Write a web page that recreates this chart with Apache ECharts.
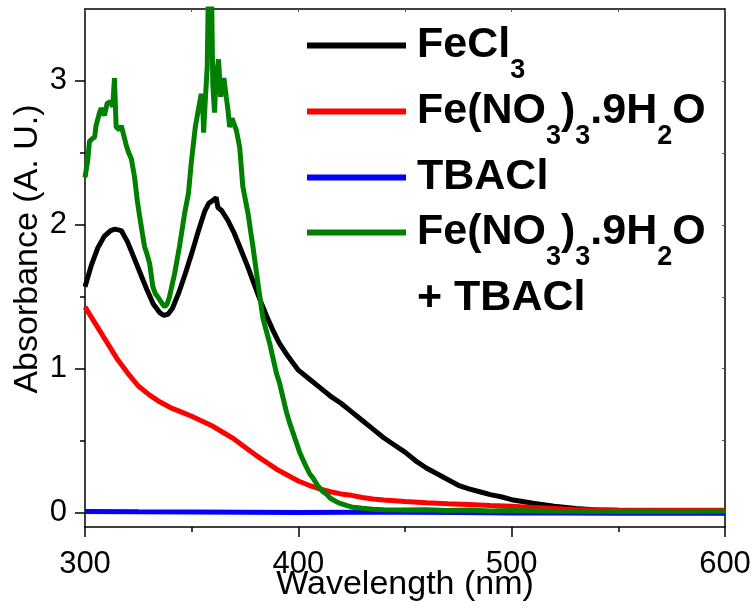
<!DOCTYPE html>
<html>
<head>
<meta charset="utf-8">
<title>Absorbance</title>
<script src="https://cdn.jsdelivr.net/npm/echarts@6.0.0/dist/echarts.min.js"></script>
<style>
	html, body { margin: 0; padding: 0; background: #fff; }
	#chart { width: 755px; height: 613px; }
</style>
</head>
<body>
<div id="chart"></div>
<script>
// 数据 -- wavelength (nm) / absorbance
var feclWl = [300, 303, 306, 309, 312, 314, 317, 320, 323, 326, 329, 332, 335, 337, 339, 341, 344, 347, 350, 353, 356, 358, 360, 361.5, 362.3, 364, 367, 370, 373, 376, 379, 382, 385, 388, 391, 395, 400, 405, 410, 415, 420, 425, 430, 435, 440, 445, 450, 455, 460, 465, 470, 475, 480, 485, 490, 495, 500, 510, 520, 530, 540, 550, 560, 580, 600];
var feclAbs = [1.57, 1.72, 1.84, 1.92, 1.96, 1.97, 1.96, 1.88, 1.77, 1.66, 1.55, 1.45, 1.39, 1.37, 1.38, 1.42, 1.53, 1.66, 1.8, 1.95, 2.09, 2.15, 2.17, 2.19, 2.12, 2.1, 2.03, 1.94, 1.83, 1.72, 1.6, 1.48, 1.37, 1.27, 1.18, 1.09, 0.99, 0.93, 0.87, 0.81, 0.76, 0.7, 0.64, 0.58, 0.52, 0.47, 0.42, 0.36, 0.31, 0.27, 0.23, 0.19, 0.165, 0.145, 0.125, 0.11, 0.09, 0.065, 0.045, 0.028, 0.018, 0.014, 0.012, 0.012, 0.012];

var nitWl = [300, 305, 310, 315, 320, 325, 330, 335, 340, 345, 350, 355, 360, 365, 370, 375, 380, 385, 390, 395, 400, 405, 410, 415, 420, 425, 430, 435, 440, 450, 460, 470, 480, 490, 500, 510, 520, 530, 550, 575, 600];
var nitAbs = [1.43, 1.31, 1.19, 1.07, 0.97, 0.88, 0.82, 0.77, 0.73, 0.7, 0.67, 0.635, 0.6, 0.555, 0.51, 0.455, 0.4, 0.35, 0.3, 0.26, 0.22, 0.19, 0.165, 0.145, 0.13, 0.12, 0.105, 0.095, 0.087, 0.077, 0.068, 0.062, 0.057, 0.05, 0.045, 0.035, 0.028, 0.022, 0.018, 0.016, 0.016];

var tbaWl = [300, 325, 350, 375, 400, 425, 450, 475, 500, 525, 550, 575, 600];
var tbaAbs = [0.008, 0.006, 0.005, 0.003, 0.0, 0.002, 0.002, 0.0, -0.003, -0.002, -0.005, -0.004, -0.004];

var mixWl = [300, 301.3, 302.1, 303.5, 304.5, 305.2, 306.8, 307.6, 308.5, 309.1, 310.4, 312, 313, 313.8, 314.6, 316.2, 317, 317.9, 319.3, 320.5, 321.7, 323.2, 324.5, 325.6, 327, 327.9, 329, 330.3, 331.8, 333, 334.1, 335.8, 337.3, 338.5, 339.6, 342, 344.3, 346.7, 348.5, 349.8, 351.7, 352.9, 354.5, 355.1, 355.6, 356.4, 357.3, 357.8, 358.4, 359.2, 359.6, 359.9, 360.7, 361.5, 362.6, 363.6, 364.4, 365.1, 366.2, 367, 367.8, 368.9, 370.9, 372.5, 374, 376.4, 378.7, 381.1, 383.4, 386.5, 389.7, 391.2, 394.4, 396, 400.6, 403, 405.3, 406.9, 409, 411.5, 413.1, 415, 417.8, 420, 422.5, 425.6, 430, 435, 440, 450, 460, 470, 480, 490, 500, 520, 540, 560, 580, 600];
var mixAbs = [2.33, 2.45, 2.58, 2.6, 2.61, 2.69, 2.78, 2.81, 2.8, 2.76, 2.845, 2.856, 2.82, 3.02, 2.68, 2.66, 2.69, 2.68, 2.555, 2.5, 2.46, 2.335, 2.17, 2.06, 1.93, 1.85, 1.8, 1.73, 1.57, 1.52, 1.5, 1.46, 1.43, 1.45, 1.5, 1.66, 1.85, 2.08, 2.22, 2.43, 2.68, 2.78, 2.91, 2.88, 2.64, 2.87, 3.1, 3.6, 3.9, 3.8, 3.3, 2.98, 2.78, 3.03, 3.15, 2.89, 2.98, 3.02, 2.89, 2.8, 2.68, 2.74, 2.66, 2.54, 2.265, 2.08, 1.85, 1.59, 1.35, 1.18, 0.97, 0.9, 0.7, 0.62, 0.42, 0.34, 0.27, 0.24, 0.19, 0.146, 0.13, 0.1, 0.076, 0.062, 0.05, 0.037, 0.03, 0.024, 0.02, 0.018, 0.02, 0.015, 0.018, 0.012, 0.014, 0.01, 0.008, 0.01, 0.008, 0.01];

var seriesNames = ['FeCl3', 'Fe(NO3)3.9H2O', 'TBACl', 'Fe(NO3)3.9H2O + TBACl'];
var seriesColors = ['#000000', '#ff0000', '#0000ff', '#008000'];
// rich-text legend labels (subscripts)
var legendLabels = [
	'{m|FeCl}{s|3}',
	'{m|Fe(NO}{s|3}{m|)}{s|3}{m|.9H}{s|2}{m|O}',
	'{m|TBACl}',
	'{m|Fe(NO}{s|3}{m|)}{s|3}{m|.9H}{s|2}{m|O}'
];
var legendTops = [7, 73, 156, 194];

var xTicks = [300, 400, 500, 600];
var yTicks = [0, 1, 2, 3];
var yMinorTicks = [0.5, 1.5, 2.5];
var yFrameTicks = [0, 0.5, 1, 1.5, 2, 2.5, 3];

function pairs(xs, ys) {
	var out = [];
	for (var i = 0; i < xs.length; i++) {
		out.push([xs[i], ys[i]]);
	}
	return out;
}

var FONT = '"Liberation Sans", Arial, sans-serif';

var myChart = echarts.init(document.getElementById('chart'));

var seriesData = [pairs(feclWl, feclAbs), pairs(nitWl, nitAbs), pairs(tbaWl, tbaAbs), pairs(mixWl, mixAbs)];
var series = [];
var legends = [];
for (var k = 0; k < seriesNames.length; k++) {
	series.push({
		name: seriesNames[k],
		type: 'line',
		xAxisIndex: 0,
		yAxisIndex: 0,
		data: seriesData[k],
		showSymbol: false,
		symbol: 'none',
		clip: true,
		lineStyle: { color: seriesColors[k], width: 5 },
		itemStyle: { color: seriesColors[k] }
	});
	legends.push({
		data: [seriesNames[k]],
		orient: 'vertical',
		left: 307,
		top: legendTops[k],
		padding: 0,
		icon: 'rect',
		itemWidth: 99,
		itemHeight: 6,
		selectedMode: false,
		formatter: (function(idx) {
			return function() { return legendLabels[idx]; };
		})(k),
		textStyle: {
			padding: [0, 0, 0, 6],
			rich: {
				m: { fontSize: 43, fontWeight: 'bold', fontFamily: FONT, color: '#000', lineHeight: 50 },
				s: { fontSize: 27, fontWeight: 'bold', fontFamily: FONT, color: '#000', lineHeight: 50, padding: [50, 0, 0, 0] }
			}
		}
	});
}

var option = {
	animation: false,
	backgroundColor: '#fff',
	grid: {
		left: 85,
		right: 30,
		top: 9,
		bottom: 86,
		containLabel: false,
		outerBoundsMode: 'none'
	},
	legend: legends,
	xAxis: [{
		type: 'value',
		position: 'bottom',
		min: 300,
		max: 600,
		interval: 100,
		name: 'Wavelength (nm)',
		nameLocation: 'middle',
		nameGap: 41,
		nameMoveOverlap: false,
		nameTextStyle: { fontSize: 34, color: '#000', fontFamily: FONT },
		axisLine: { show: true, onZero: false, lineStyle: { color: '#000', width: 1.5 } },
		axisTick: { show: true, inside: false, length: 10, lineStyle: { color: '#000', width: 1.5 } },
		minorTick: { show: true, splitNumber: 2, length: 5, lineStyle: { color: '#000', width: 1.5 } },
		axisLabel: {
			margin: 22,
			fontSize: 31,
			color: '#000',
			fontFamily: FONT,
			customValues: xTicks
		},
		splitLine: { show: false },
		minorSplitLine: { show: false }
	}, {
		type: 'value',
		position: 'top',
		min: 300,
		max: 600,
		interval: 50,
		axisLine: { show: true, onZero: false, lineStyle: { color: '#000', width: 1.5 } },
		axisTick: { show: true, inside: true, length: 3, lineStyle: { color: '#555', width: 1 } },
		axisLabel: { show: false },
		splitLine: { show: false }
	}],
	yAxis: [{
		type: 'value',
		position: 'left',
		min: -0.1,
		max: 3.5,
		name: 'Absorbance (A. U.)',
		nameLocation: 'middle',
		nameGap: 40,
		nameMoveOverlap: false,
		nameTextStyle: { fontSize: 34, color: '#000', fontFamily: FONT, padding: [0, 0, 0, 38] },
		axisLine: { show: true, onZero: false, lineStyle: { color: '#000', width: 1.5 } },
		axisTick: { show: true, inside: false, length: 10, customValues: yTicks, lineStyle: { color: '#000', width: 1.5 } },
		axisLabel: {
			margin: 18,
			fontSize: 31,
			color: '#000',
			fontFamily: FONT,
			customValues: yTicks
		},
		splitLine: { show: false }
	}, {
		type: 'value',
		position: 'left',
		min: -0.1,
		max: 3.5,
		axisLine: { show: false },
		axisTick: { show: true, inside: false, length: 5, customValues: yMinorTicks, lineStyle: { color: '#000', width: 1.5 } },
		axisLabel: { show: false },
		splitLine: { show: false }
	}, {
		type: 'value',
		position: 'right',
		min: -0.1,
		max: 3.5,
		axisLine: { show: true, onZero: false, lineStyle: { color: '#000', width: 1.5 } },
		axisTick: { show: true, inside: true, length: 3, customValues: yFrameTicks, lineStyle: { color: '#555', width: 1 } },
		axisLabel: { show: false },
		splitLine: { show: false }
	}],
	graphic: [{
		type: 'text',
		x: 417,
		y: 298,
		style: {
			text: '+ TBACl',
			fontSize: 43,
			fontWeight: 'bold',
			fontFamily: FONT,
			fill: '#000',
			align: 'left',
			verticalAlign: 'middle'
		}
	}],
	series: series
};

window.onresize = myChart.resize;
myChart.setOption(option);
</script>
</body>
</html>
